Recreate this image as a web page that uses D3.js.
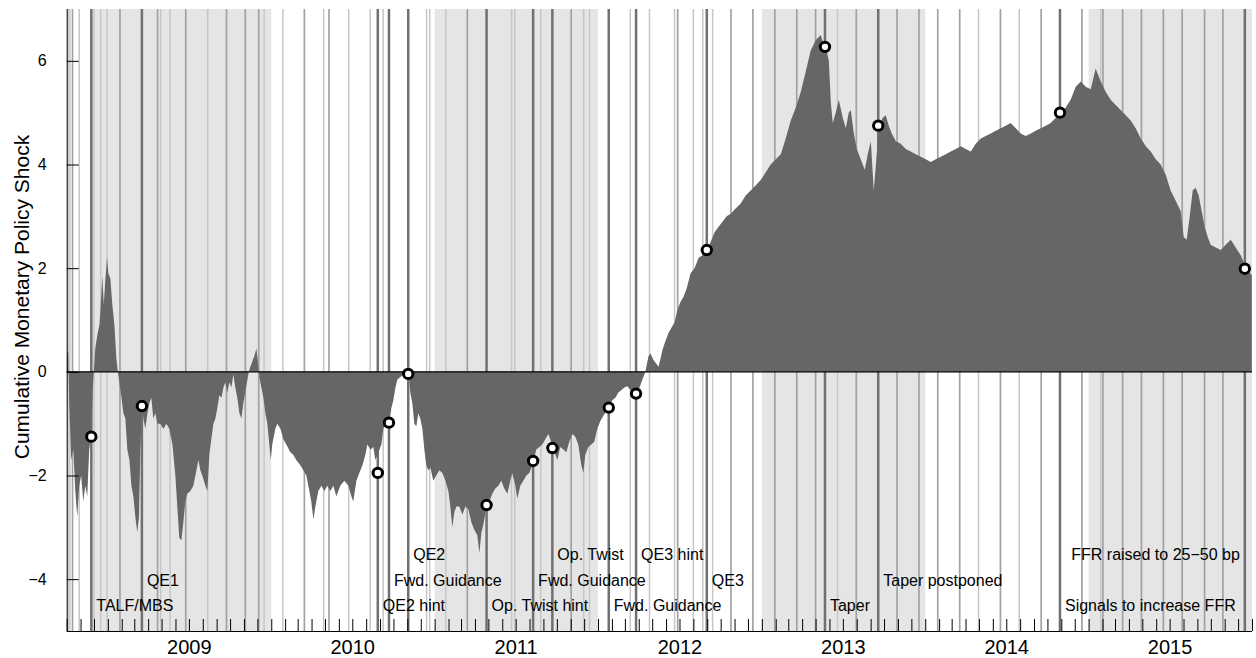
<!DOCTYPE html>
<html><head><meta charset="utf-8">
<script src="https://cdn.jsdelivr.net/npm/d3@7"></script>
<style>body{margin:0;background:#fff}svg{display:block}text{font-family:"Liberation Sans",Arial,sans-serif;fill:#000}</style>
</head><body><svg id="c" width="1256" height="658"></svg>
<script>
// ---------- DATA ----------
// cumulative shock series: time as decimal year, value
const seriesT = [2008.750,2008.758,2008.764,2008.776,2008.789,2008.801,2008.813,2008.825,2008.837,2008.850,2008.862,2008.874,2008.886,2008.899,2008.908,2008.914,2008.923,2008.935,2008.948,2008.957,2008.966,2008.975,2008.985,2008.995,2009.003,2009.015,2009.027,2009.040,2009.052,2009.061,2009.070,2009.083,2009.095,2009.107,2009.119,2009.132,2009.144,2009.156,2009.168,2009.180,2009.190,2009.199,2009.209,2009.217,2009.229,2009.242,2009.254,2009.266,2009.278,2009.291,2009.303,2009.321,2009.340,2009.358,2009.376,2009.395,2009.413,2009.425,2009.437,2009.450,2009.462,2009.474,2009.486,2009.505,2009.523,2009.542,2009.554,2009.566,2009.578,2009.597,2009.609,2009.621,2009.633,2009.646,2009.658,2009.670,2009.682,2009.695,2009.707,2009.719,2009.731,2009.744,2009.756,2009.768,2009.780,2009.792,2009.805,2009.817,2009.829,2009.841,2009.854,2009.863,2009.872,2009.884,2009.896,2009.909,2009.918,2009.927,2009.939,2009.952,2009.964,2009.976,2009.988,2009.997,2010.006,2010.025,2010.037,2010.056,2010.074,2010.092,2010.117,2010.135,2010.153,2010.178,2010.196,2010.215,2010.233,2010.245,2010.258,2010.270,2010.288,2010.307,2010.325,2010.343,2010.362,2010.380,2010.398,2010.423,2010.447,2010.472,2010.490,2010.502,2010.521,2010.539,2010.558,2010.576,2010.588,2010.607,2010.625,2010.637,2010.651,2010.662,2010.674,2010.686,2010.705,2010.721,2010.735,2010.747,2010.760,2010.772,2010.790,2010.808,2010.827,2010.841,2010.851,2010.863,2010.876,2010.888,2010.900,2010.912,2010.925,2010.937,2010.949,2010.961,2010.974,2010.992,2011.010,2011.029,2011.047,2011.066,2011.084,2011.096,2011.108,2011.121,2011.133,2011.151,2011.170,2011.188,2011.206,2011.225,2011.243,2011.261,2011.274,2011.286,2011.298,2011.318,2011.335,2011.353,2011.371,2011.390,2011.408,2011.426,2011.445,2011.463,2011.475,2011.494,2011.506,2011.524,2011.543,2011.561,2011.579,2011.592,2011.606,2011.622,2011.641,2011.659,2011.677,2011.696,2011.708,2011.722,2011.739,2011.751,2011.769,2011.788,2011.806,2011.824,2011.843,2011.861,2011.879,2011.898,2011.910,2011.922,2011.941,2011.959,2011.977,2011.996,2012.014,2012.032,2012.051,2012.069,2012.087,2012.106,2012.124,2012.143,2012.161,2012.179,2012.198,2012.216,2012.239,2012.253,2012.271,2012.289,2012.308,2012.320,2012.338,2012.357,2012.369,2012.381,2012.393,2012.412,2012.430,2012.448,2012.467,2012.485,2012.504,2012.522,2012.540,2012.565,2012.589,2012.614,2012.638,2012.667,2012.687,2012.712,2012.736,2012.761,2012.785,2012.810,2012.840,2012.871,2012.901,2012.932,2012.963,2012.993,2013.024,2013.054,2013.085,2013.116,2013.146,2013.177,2013.208,2013.238,2013.269,2013.299,2013.330,2013.361,2013.379,2013.391,2013.410,2013.422,2013.434,2013.452,2013.471,2013.495,2013.514,2013.532,2013.544,2013.563,2013.581,2013.605,2013.630,2013.648,2013.667,2013.685,2013.703,2013.720,2013.740,2013.758,2013.777,2013.795,2013.820,2013.850,2013.881,2013.911,2013.942,2013.973,2014.003,2014.034,2014.064,2014.095,2014.126,2014.156,2014.187,2014.217,2014.248,2014.279,2014.309,2014.340,2014.370,2014.401,2014.432,2014.462,2014.493,2014.523,2014.554,2014.584,2014.615,2014.646,2014.676,2014.707,2014.738,2014.768,2014.799,2014.831,2014.860,2014.890,2014.921,2014.952,2014.982,2015.013,2015.043,2015.074,2015.105,2015.135,2015.166,2015.196,2015.227,2015.258,2015.288,2015.319,2015.350,2015.380,2015.411,2015.441,2015.472,2015.502,2015.533,2015.564,2015.582,2015.600,2015.619,2015.637,2015.655,2015.674,2015.692,2015.710,2015.729,2015.747,2015.778,2015.808,2015.839,2015.870,2015.900,2015.931,2015.966,2015.999];
const seriesV = [0.35,0.4,-0.6,-1.7,-1.5,-2.3,-2.8,-2.2,-2.0,-2.5,-2.2,-2.4,-1.5,-1.2,-0.3,0.0,0.45,0.7,0.9,1.3,1.85,1.3,1.8,2.2,1.9,1.8,1.3,0.9,0.25,0.0,-0.2,-0.5,-0.8,-0.9,-1.5,-1.7,-2.2,-2.4,-2.8,-3.1,-2.8,-1.5,-0.7,-0.9,-1.1,-0.8,-0.6,-0.5,-0.9,-0.8,-1.0,-1.0,-1.1,-1.0,-1.1,-1.4,-2.0,-2.6,-3.2,-3.25,-2.9,-2.5,-2.35,-2.3,-2.2,-1.9,-1.7,-1.9,-2.0,-2.2,-2.3,-1.6,-1.3,-1.0,-0.9,-0.7,-0.45,-0.5,-0.3,-0.2,-0.4,-0.2,-0.3,-0.05,-0.3,-0.5,-0.8,-0.9,-0.6,-0.4,-0.15,0.0,0.1,0.2,0.3,0.45,0.2,-0.1,-0.3,-0.5,-0.8,-1.0,-1.4,-1.7,-1.4,-1.1,-1.0,-1.1,-1.3,-1.4,-1.55,-1.6,-1.7,-1.8,-1.9,-2.0,-2.3,-2.5,-2.85,-2.6,-2.3,-2.2,-2.3,-2.2,-2.3,-2.2,-2.4,-2.2,-2.1,-2.2,-2.4,-2.5,-2.1,-1.95,-1.8,-1.6,-1.4,-1.5,-1.45,-1.7,-1.6,-1.5,-1.4,-1.1,-1.0,-0.98,-0.7,-0.55,-0.3,-0.15,-0.1,-0.05,-0.02,-0.04,-0.4,-0.6,-1.0,-1.05,-0.8,-0.9,-1.1,-1.5,-1.8,-1.9,-1.85,-2.1,-2.0,-1.9,-1.95,-2.1,-2.3,-2.6,-3.0,-2.7,-2.6,-2.6,-2.75,-2.6,-2.65,-2.9,-3.05,-3.15,-3.5,-3.1,-2.95,-2.59,-2.5,-2.35,-2.25,-2.2,-2.1,-2.25,-2.35,-2.1,-1.95,-2.2,-2.45,-2.2,-2.1,-2.0,-1.95,-1.85,-1.72,-1.5,-1.45,-1.4,-1.3,-1.2,-1.3,-1.47,-1.6,-1.7,-1.45,-1.5,-1.55,-1.35,-1.2,-1.25,-1.4,-1.8,-1.95,-1.6,-1.45,-1.4,-1.35,-1.1,-0.95,-0.85,-0.75,-0.69,-0.55,-0.5,-0.4,-0.35,-0.3,-0.28,-0.35,-0.4,-0.42,-0.3,-0.15,0.0,0.3,0.36,0.23,0.15,0.1,0.25,0.42,0.6,0.75,0.85,0.95,1.2,1.35,1.45,1.6,1.9,2.0,2.2,2.25,2.35,2.5,2.7,2.8,2.9,3.0,3.05,3.15,3.25,3.4,3.5,3.6,3.7,3.85,4.0,4.1,4.2,4.5,4.85,5.1,5.4,5.8,6.2,6.4,6.5,6.3,6.27,6.0,5.2,4.8,5.0,5.25,4.9,4.7,5.0,5.05,4.6,4.3,4.1,3.9,4.2,4.45,3.5,4.2,4.75,4.9,4.95,4.75,4.6,4.45,4.4,4.3,4.25,4.2,4.15,4.1,4.05,4.1,4.15,4.2,4.25,4.3,4.35,4.3,4.25,4.4,4.5,4.55,4.6,4.65,4.7,4.75,4.8,4.7,4.6,4.55,4.6,4.65,4.7,4.75,4.8,4.9,5.0,5.1,5.25,5.5,5.6,5.5,5.45,5.85,5.6,5.4,5.25,5.15,5.05,4.95,4.85,4.7,4.5,4.35,4.25,4.1,4.0,3.8,3.5,3.3,3.1,2.6,2.55,3.0,3.5,3.55,3.4,3.1,2.8,2.6,2.45,2.4,2.35,2.45,2.55,2.4,2.25,1.99,1.87];

// announcement dates and line emphasis (d = key event, m = medium, l = light)
const eventDates = ["2008-10-04","2008-10-08","2008-10-14","2008-10-29","2008-11-25","2008-12-01","2008-12-16","2008-12-30",
 "2009-01-28","2009-03-18","2009-04-22","2009-04-29","2009-05-20","2009-06-24","2009-08-12","2009-09-23","2009-11-04","2009-12-04","2009-12-16",
 "2010-01-27","2010-03-16","2010-04-28","2010-05-10","2010-06-23","2010-08-10","2010-08-27","2010-09-08","2010-09-21","2010-11-03","2010-12-14","2010-12-21",
 "2011-01-26","2011-03-15","2011-04-27","2011-06-22","2011-06-29","2011-08-09","2011-08-26","2011-09-21","2011-11-02","2011-11-30","2011-12-13",
 "2012-01-25","2012-03-13","2012-03-26","2012-04-25","2012-06-20","2012-06-27","2012-08-01","2012-08-22","2012-08-31","2012-09-13","2012-10-24","2012-12-12",
 "2013-01-30","2013-03-20","2013-05-01","2013-05-22","2013-06-19","2013-07-31","2013-09-18","2013-10-30","2013-12-18",
 "2014-01-29","2014-03-19","2014-04-30","2014-06-18","2014-07-30","2014-09-17","2014-10-29","2014-12-17",
 "2015-01-28","2015-02-02","2015-03-18","2015-04-29","2015-06-17","2015-07-29","2015-09-17","2015-10-28","2015-12-16"];
const eventWeight = ["l","l","m","l","d","l","l","l",
 "m","d","m","l","l","m","l","m","m","m","l",
 "l","m","l","m","l","l","d","l","d","d","l","l",
 "l","m","d","l","l","d","l","d","m","l","l",
 "d","l","d","l","l","m","l","l","d","l","m","m",
 "m","m","m","d","l","m","d","m","m",
 "m","m","l","m","l","m","d","m",
 "l","m","m","m","m","m","m","m","d"];

// highlighted key announcements (circles)
const dotDates  = ["2008-11-25","2009-03-18","2010-08-27","2010-09-21","2010-11-03","2011-04-27","2011-08-09","2011-09-21","2012-01-25","2012-03-26","2012-08-31","2013-05-22","2013-09-18","2014-10-29","2015-12-16"];
const dotValues = [-1.25,-0.66,-1.95,-0.98,-0.04,-2.57,-1.72,-1.47,-0.69,-0.42,2.35,6.27,4.75,5.0,1.99];

// annotation labels
const labelTexts   = ["TALF/MBS","QE1","QE2 hint","Fwd. Guidance","QE2","Op. Twist hint","Fwd. Guidance","Op. Twist","Fwd. Guidance","QE3 hint","QE3","Taper","Taper postponed","Signals to increase FFR","FFR raised to 25\u221250 bp"];
const labelDates   = ["2008-11-25","2009-03-18","2010-08-27","2010-09-21","2010-11-03","2011-04-27","2011-08-09","2011-09-21","2012-01-25","2012-03-26","2012-08-31","2013-05-22","2013-09-18","2014-10-29","2015-12-16"];
const labelRows    = [3,2,3,2,1,3,2,1,3,1,2,3,2,3,1];
const labelAnchors = ["start","start","start","start","start","start","start","start","start","start","start","start","start","start","end"];

// shaded periods
const shadeStarts = ["2008-11-25","2011-01-01","2013-01-01","2015-01-01"];
const shadeEnds   = ["2010-01-01","2012-01-01","2014-01-01","2016-01-01"];

const yTicks = [-4,-2,0,2,4,6];
const yearLabels = [2009,2010,2011,2012,2013,2014,2015];
const yTitle = "Cumulative Monetary Policy Shock";

// ---------- DRAW ----------
const svg = d3.select("#c");
const L = 66.7, R = 1252, T = 9, B = 631;
const toDate = t => { const y = Math.floor(t); const a = Date.UTC(y,0,1), b = Date.UTC(y+1,0,1); return new Date(a + (t-y)*(b-a)); };
const pd = s => new Date(s + "T00:00:00Z");

const x = d3.scaleUtc().domain([pd("2008-10-01"), pd("2016-01-01")]).range([L, R]);
const y = d3.scaleLinear().domain([-5, 7]).range([B, T]);

// shading
svg.append("g").selectAll("rect").data(shadeStarts.map((s,i)=>[pd(s),pd(shadeEnds[i])])).join("rect")
  .attr("x", d=>x(d[0])).attr("width", d=>x(d[1])-x(d[0]))
  .attr("y", T).attr("height", B-T).attr("fill", "#e5e5e5");

// event lines
const wStyle = {d:{c:"#707070",w:2.5}, m:{c:"#a2a2a2",w:1.7}, l:{c:"#c6c6c6",w:1.5}};
svg.append("g").selectAll("line").data(eventDates.map((d,i)=>({d:pd(d),w:eventWeight[i]}))).join("line")
  .attr("x1", d=>x(d.d)).attr("x2", d=>x(d.d)).attr("y1", T).attr("y2", B)
  .attr("stroke", d=>wStyle[d.w].c).attr("stroke-width", d=>wStyle[d.w].w);

// area
const series = seriesT.map((t,i)=>({d:toDate(t), v:seriesV[i]}));
svg.append("path").datum(series)
  .attr("d", d3.area().x(d=>x(d.d)).y0(y(0)).y1(d=>y(d.v)))
  .attr("fill", "#666666");

// zero line
svg.append("line").attr("x1", L).attr("x2", R).attr("y1", y(0)).attr("y2", y(0))
  .attr("stroke", "#000").attr("stroke-width", 1.2);

// labels
const rowY = {1:560, 2:585.5, 3:611};
svg.append("g").selectAll("text").data(labelTexts.map((t,i)=>({t, d:pd(labelDates[i]), r:labelRows[i], a:labelAnchors[i]}))).join("text")
  .attr("x", d=> x(d.d) + (d.a==="end" ? -5 : 5)).attr("y", d=>rowY[d.r])
  .attr("text-anchor", d=>d.a).attr("font-size", 16).text(d=>d.t);

// axes
const yAxis = d3.axisLeft(y).tickValues(yTicks).tickSize(-12).tickPadding(20)
  .tickFormat(d => d < 0 ? "\u2212" + Math.abs(d) : String(d));
const gy = svg.append("g").attr("transform", `translate(${L},0)`).call(yAxis);
gy.select(".domain").attr("d", `M0.5,${T}V${B}`).attr("stroke","#000");
gy.selectAll(".tick text").attr("font-size", 16).attr("font-family", "Liberation Sans, Arial, sans-serif").attr("fill","#000");
gy.selectAll(".tick line").attr("stroke","#000");

const xAxis = d3.axisBottom(x).ticks(d3.utcMonth.every(1)).tickSize(-12).tickFormat("");
const gx = svg.append("g").attr("transform", `translate(0,${B})`).call(xAxis);
gx.select(".domain").attr("d", `M${L},0.5H${R}`).attr("stroke","#000");
gx.selectAll(".tick line").attr("stroke","#000");

svg.append("g").selectAll("text").data(yearLabels).join("text")
  .attr("x", d=>x(pd(d+"-07-02"))).attr("y", 654).attr("text-anchor","middle")
  .attr("font-size", 20).text(d=>d);

// y title
svg.append("text").attr("transform", `translate(29,297) rotate(-90)`)
  .attr("text-anchor","middle").attr("font-size", 21).text(yTitle);

// dots
svg.append("g").selectAll("circle").data(dotDates.map((d,i)=>({d:pd(d), v:dotValues[i]}))).join("circle")
  .attr("cx", d=>x(d.d)).attr("cy", d=>y(d.v)).attr("r", 4.7)
  .attr("fill", "#fff").attr("stroke", "#000").attr("stroke-width", 3);
</script></body></html>
